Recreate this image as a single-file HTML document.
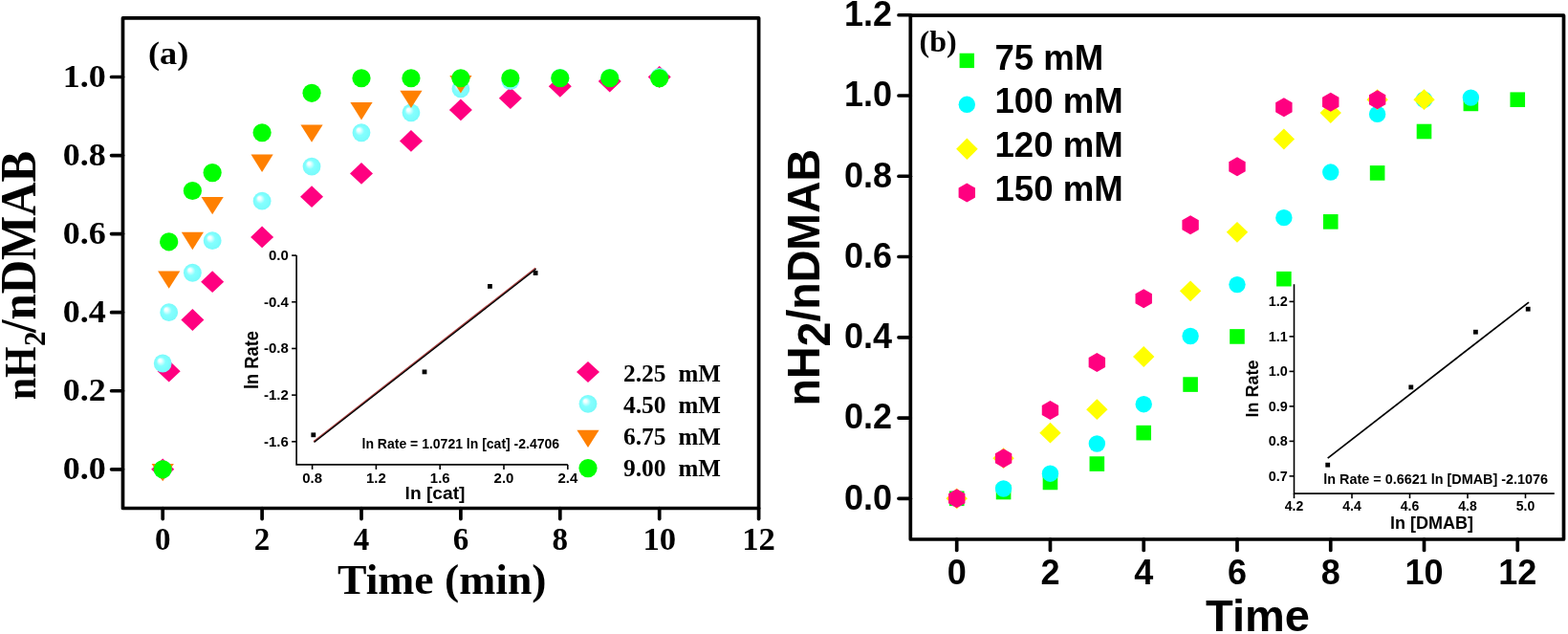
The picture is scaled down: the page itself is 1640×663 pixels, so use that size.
<!DOCTYPE html>
<html><head><meta charset="utf-8"><title>Figure</title>
<style>html,body{margin:0;padding:0;background:#fff;width:1640px;height:663px;overflow:hidden}svg{display:block}</style>
</head><body>
<svg width="1640" height="663" viewBox="0 0 1640 663">
<defs><radialGradient id="sph" cx="0.5" cy="0.5" r="0.5" fx="0.32" fy="0.31"><stop offset="0" stop-color="#ffffff"/><stop offset="0.16" stop-color="#f4ffff"/><stop offset="0.5" stop-color="#84ffff"/><stop offset="1" stop-color="#78fafa"/></radialGradient></defs>
<rect width="1640" height="663" fill="#fff"/>
<path d="M170.2 479.4L182.2 490.8L170.2 502.2L158.2 490.8Z" fill="#ff0080"/>
<path d="M176.69 376.83L188.69 388.23L176.69 399.62L164.69 388.23Z" fill="#ff0080"/>
<path d="M201.37 323.08L213.37 334.48L201.37 345.88L189.37 334.48Z" fill="#ff0080"/>
<path d="M222.15 283.28L234.15 294.68L222.15 306.08L210.15 294.68Z" fill="#ff0080"/>
<path d="M274.1 236.5L286.1 247.9L274.1 259.3L262.1 247.9Z" fill="#ff0080"/>
<path d="M326.05 194.24L338.05 205.64L326.05 217.04L314.05 205.64Z" fill="#ff0080"/>
<path d="M378 170.03L390 181.43L378 192.83L366 181.43Z" fill="#ff0080"/>
<path d="M429.95 135.98L441.95 147.38L429.95 158.78L417.95 147.38Z" fill="#ff0080"/>
<path d="M481.9 103.57L493.9 114.97L481.9 126.37L469.9 114.97Z" fill="#ff0080"/>
<path d="M533.85 91.26L545.85 102.66L533.85 114.06L521.85 102.66Z" fill="#ff0080"/>
<path d="M585.8 78.95L597.8 90.35L585.8 101.75L573.8 90.35Z" fill="#ff0080"/>
<path d="M637.75 73.61L649.75 85.01L637.75 96.41L625.75 85.01Z" fill="#ff0080"/>
<path d="M689.7 69.1L701.7 80.5L689.7 91.9L677.7 80.5Z" fill="#ff0080"/>
<circle cx="170.2" cy="490.8" r="9.4" fill="url(#sph)"/>
<circle cx="170.2" cy="380.02" r="9.4" fill="url(#sph)"/>
<circle cx="176.69" cy="326.68" r="9.4" fill="url(#sph)"/>
<circle cx="201.37" cy="285.24" r="9.4" fill="url(#sph)"/>
<circle cx="222.15" cy="251.6" r="9.4" fill="url(#sph)"/>
<circle cx="274.1" cy="210.15" r="9.4" fill="url(#sph)"/>
<circle cx="326.05" cy="174.05" r="9.4" fill="url(#sph)"/>
<circle cx="378" cy="138.76" r="9.4" fill="url(#sph)"/>
<circle cx="429.95" cy="117.84" r="9.4" fill="url(#sph)"/>
<circle cx="481.9" cy="92.81" r="9.4" fill="url(#sph)"/>
<circle cx="533.85" cy="84.6" r="9.4" fill="url(#sph)"/>
<circle cx="585.8" cy="81.32" r="9.4" fill="url(#sph)"/>
<circle cx="637.75" cy="81.32" r="9.4" fill="url(#sph)"/>
<circle cx="689.7" cy="80.5" r="9.4" fill="url(#sph)"/>
<path d="M158.6 484.88L181.8 484.88L170.2 503.28Z" fill="#ff8000"/>
<path d="M165.09 283.43L188.29 283.43L176.69 301.83Z" fill="#ff8000"/>
<path d="M189.77 242.81L212.97 242.81L201.37 261.21Z" fill="#ff8000"/>
<path d="M210.55 205.88L233.75 205.88L222.15 224.28Z" fill="#ff8000"/>
<path d="M262.5 161.57L285.7 161.57L274.1 179.97Z" fill="#ff8000"/>
<path d="M314.45 130.38L337.65 130.38L326.05 148.78Z" fill="#ff8000"/>
<path d="M366.4 107L389.6 107L378 125.4Z" fill="#ff8000"/>
<path d="M418.35 94.69L441.55 94.69L429.95 113.09Z" fill="#ff8000"/>
<path d="M470.3 79.1L493.5 79.1L481.9 97.5Z" fill="#ff8000"/>
<circle cx="170.2" cy="490.8" r="9.6" fill="#00ff00"/>
<circle cx="176.69" cy="252.83" r="9.6" fill="#00ff00"/>
<circle cx="201.37" cy="199.49" r="9.6" fill="#00ff00"/>
<circle cx="222.15" cy="180.61" r="9.6" fill="#00ff00"/>
<circle cx="274.1" cy="138.76" r="9.6" fill="#00ff00"/>
<circle cx="326.05" cy="97.32" r="9.6" fill="#00ff00"/>
<circle cx="378" cy="81.73" r="9.6" fill="#00ff00"/>
<circle cx="429.95" cy="81.73" r="9.6" fill="#00ff00"/>
<circle cx="481.9" cy="81.73" r="9.6" fill="#00ff00"/>
<circle cx="533.85" cy="81.73" r="9.6" fill="#00ff00"/>
<circle cx="585.8" cy="81.73" r="9.6" fill="#00ff00"/>
<circle cx="637.75" cy="81.73" r="9.6" fill="#00ff00"/>
<circle cx="689.7" cy="81.73" r="9.6" fill="#00ff00"/>
<rect x="128.5" y="18.8" width="665.1" height="512.7" fill="none" stroke="#000" stroke-width="3.7" stroke-linejoin="round"/>
<line x1="116.6" y1="490.8" x2="128.5" y2="490.8" stroke="#000" stroke-width="3.7" stroke-linecap="round"/>
<line x1="116.6" y1="408.74" x2="128.5" y2="408.74" stroke="#000" stroke-width="3.7" stroke-linecap="round"/>
<line x1="116.6" y1="326.68" x2="128.5" y2="326.68" stroke="#000" stroke-width="3.7" stroke-linecap="round"/>
<line x1="116.6" y1="244.62" x2="128.5" y2="244.62" stroke="#000" stroke-width="3.7" stroke-linecap="round"/>
<line x1="116.6" y1="162.56" x2="128.5" y2="162.56" stroke="#000" stroke-width="3.7" stroke-linecap="round"/>
<line x1="116.6" y1="80.5" x2="128.5" y2="80.5" stroke="#000" stroke-width="3.7" stroke-linecap="round"/>
<line x1="170.2" y1="531.5" x2="170.2" y2="542.6" stroke="#000" stroke-width="3.7" stroke-linecap="round"/>
<line x1="274.1" y1="531.5" x2="274.1" y2="542.6" stroke="#000" stroke-width="3.7" stroke-linecap="round"/>
<line x1="378" y1="531.5" x2="378" y2="542.6" stroke="#000" stroke-width="3.7" stroke-linecap="round"/>
<line x1="481.9" y1="531.5" x2="481.9" y2="542.6" stroke="#000" stroke-width="3.7" stroke-linecap="round"/>
<line x1="585.8" y1="531.5" x2="585.8" y2="542.6" stroke="#000" stroke-width="3.7" stroke-linecap="round"/>
<line x1="689.7" y1="531.5" x2="689.7" y2="542.6" stroke="#000" stroke-width="3.7" stroke-linecap="round"/>
<line x1="793.6" y1="531.5" x2="793.6" y2="542.6" stroke="#000" stroke-width="3.7" stroke-linecap="round"/>
<text transform="translate(110.8 501.2) scale(1.045 1)" font-family="Liberation Serif, serif" font-weight="bold" font-size="34.5" text-anchor="end">0.0</text>
<text transform="translate(110.8 419.14) scale(1.045 1)" font-family="Liberation Serif, serif" font-weight="bold" font-size="34.5" text-anchor="end">0.2</text>
<text transform="translate(110.8 337.08) scale(1.045 1)" font-family="Liberation Serif, serif" font-weight="bold" font-size="34.5" text-anchor="end">0.4</text>
<text transform="translate(110.8 255.02) scale(1.045 1)" font-family="Liberation Serif, serif" font-weight="bold" font-size="34.5" text-anchor="end">0.6</text>
<text transform="translate(110.8 172.96) scale(1.045 1)" font-family="Liberation Serif, serif" font-weight="bold" font-size="34.5" text-anchor="end">0.8</text>
<text transform="translate(110.8 90.9) scale(1.045 1)" font-family="Liberation Serif, serif" font-weight="bold" font-size="34.5" text-anchor="end">1.0</text>
<text transform="translate(170.2 575.2)" font-family="Liberation Serif, serif" font-weight="bold" font-size="33" text-anchor="middle">0</text>
<text transform="translate(274.1 575.2)" font-family="Liberation Serif, serif" font-weight="bold" font-size="33" text-anchor="middle">2</text>
<text transform="translate(378 575.2)" font-family="Liberation Serif, serif" font-weight="bold" font-size="33" text-anchor="middle">4</text>
<text transform="translate(481.9 575.2)" font-family="Liberation Serif, serif" font-weight="bold" font-size="33" text-anchor="middle">6</text>
<text transform="translate(585.8 575.2)" font-family="Liberation Serif, serif" font-weight="bold" font-size="33" text-anchor="middle">8</text>
<text transform="translate(689.7 575.2) scale(1.05 1)" font-family="Liberation Serif, serif" font-weight="bold" font-size="33" text-anchor="middle">10</text>
<text transform="translate(793.6 575.2) scale(1.05 1)" font-family="Liberation Serif, serif" font-weight="bold" font-size="33" text-anchor="middle">12</text>
<text transform="translate(353 621.4) scale(1.015 1)" font-family="Liberation Serif, serif" font-weight="bold" font-size="45">Time (min)</text>
<text transform="translate(36.6 418.3) rotate(-90) scale(0.9 1.02)" font-family="Liberation Serif, serif" font-weight="bold" font-size="46.5">nH</text>
<text transform="translate(46.6 362) rotate(-90) scale(1 1.05)" font-family="Liberation Serif, serif" font-weight="bold" font-size="31">2</text>
<text transform="translate(36.6 348) rotate(-90) scale(0.95 1.03)" font-family="Liberation Serif, serif" font-weight="bold" font-size="51.5">/nDMAB</text>
<text transform="translate(155 67) scale(1.1 1)" font-family="Liberation Serif, serif" font-weight="bold" font-size="33">(a)</text>
<path d="M615 378L627 389L615 400L603 389Z" fill="#ff0080"/>
<circle cx="615" cy="422.3" r="9.4" fill="url(#sph)"/>
<path d="M603.4 449.7L626.6 449.7L615 468.1Z" fill="#ff8000"/>
<circle cx="615" cy="489.6" r="9.6" fill="#00ff00"/>
<text transform="translate(652 398.5) scale(1.02 1)" font-family="Liberation Serif, serif" font-weight="bold" font-size="25">2.25</text>
<text transform="translate(709.5 398.5)" font-family="Liberation Serif, serif" font-weight="bold" font-size="25">mM</text>
<text transform="translate(652 431.9) scale(1.02 1)" font-family="Liberation Serif, serif" font-weight="bold" font-size="25">4.50</text>
<text transform="translate(709.5 431.9)" font-family="Liberation Serif, serif" font-weight="bold" font-size="25">mM</text>
<text transform="translate(652 465.2) scale(1.02 1)" font-family="Liberation Serif, serif" font-weight="bold" font-size="25">6.75</text>
<text transform="translate(709.5 465.2)" font-family="Liberation Serif, serif" font-weight="bold" font-size="25">mM</text>
<text transform="translate(652 498.4) scale(1.02 1)" font-family="Liberation Serif, serif" font-weight="bold" font-size="25">9.00</text>
<text transform="translate(709.5 498.4)" font-family="Liberation Serif, serif" font-weight="bold" font-size="25">mM</text>
<path d="M310.1 267.1V485.9H593.8" fill="none" stroke="#000" stroke-width="1.6"/>
<line x1="305.1" y1="267.1" x2="310.1" y2="267.1" stroke="#000" stroke-width="1.6"/>
<line x1="305.1" y1="315.78" x2="310.1" y2="315.78" stroke="#000" stroke-width="1.6"/>
<line x1="305.1" y1="364.46" x2="310.1" y2="364.46" stroke="#000" stroke-width="1.6"/>
<line x1="305.1" y1="413.14" x2="310.1" y2="413.14" stroke="#000" stroke-width="1.6"/>
<line x1="305.1" y1="461.82" x2="310.1" y2="461.82" stroke="#000" stroke-width="1.6"/>
<line x1="326.6" y1="485.9" x2="326.6" y2="490.9" stroke="#000" stroke-width="1.6"/>
<line x1="393.4" y1="485.9" x2="393.4" y2="490.9" stroke="#000" stroke-width="1.6"/>
<line x1="460.2" y1="485.9" x2="460.2" y2="490.9" stroke="#000" stroke-width="1.6"/>
<line x1="527" y1="485.9" x2="527" y2="490.9" stroke="#000" stroke-width="1.6"/>
<line x1="593.8" y1="485.9" x2="593.8" y2="490.9" stroke="#000" stroke-width="1.6"/>
<g font-family="Liberation Sans, sans-serif" font-weight="bold" font-size="14" fill="#000">
<text transform="translate(301.8 271.9) scale(1.07 1)" font-family="Liberation Sans, sans-serif" font-weight="bold" font-size="14" text-anchor="end">0.0</text>
<text transform="translate(301.8 320.58) scale(1.07 1)" font-family="Liberation Sans, sans-serif" font-weight="bold" font-size="14" text-anchor="end">-0.4</text>
<text transform="translate(301.8 369.26) scale(1.07 1)" font-family="Liberation Sans, sans-serif" font-weight="bold" font-size="14" text-anchor="end">-0.8</text>
<text transform="translate(301.8 417.94) scale(1.07 1)" font-family="Liberation Sans, sans-serif" font-weight="bold" font-size="14" text-anchor="end">-1.2</text>
<text transform="translate(301.8 466.62) scale(1.07 1)" font-family="Liberation Sans, sans-serif" font-weight="bold" font-size="14" text-anchor="end">-1.6</text>
<text transform="translate(326.6 504.6) scale(1.07 1)" font-family="Liberation Sans, sans-serif" font-weight="bold" font-size="14" text-anchor="middle">0.8</text>
<text transform="translate(393.4 504.6) scale(1.07 1)" font-family="Liberation Sans, sans-serif" font-weight="bold" font-size="14" text-anchor="middle">1.2</text>
<text transform="translate(460.2 504.6) scale(1.07 1)" font-family="Liberation Sans, sans-serif" font-weight="bold" font-size="14" text-anchor="middle">1.6</text>
<text transform="translate(527 504.6) scale(1.07 1)" font-family="Liberation Sans, sans-serif" font-weight="bold" font-size="14" text-anchor="middle">2.0</text>
<text transform="translate(593.8 504.6) scale(1.07 1)" font-family="Liberation Sans, sans-serif" font-weight="bold" font-size="14" text-anchor="middle">2.4</text>
<text transform="translate(378.5 468.8)" font-family="Liberation Sans, sans-serif" font-weight="bold" font-size="14">ln Rate = 1.0721 ln [cat] -2.4706</text>
</g>
<text x="455" y="521.5" text-anchor="middle" font-family="Liberation Sans, sans-serif" font-weight="bold" font-size="19.2">ln [cat]</text>
<text transform="translate(270.3 376.6) rotate(-90) scale(1 1.06)" font-family="Liberation Sans, sans-serif" font-weight="bold" font-size="18.3" text-anchor="middle">ln Rate</text>
<line x1="328.02" y1="461.74" x2="560.15" y2="280.38" stroke="#a83c3c" stroke-width="1.5"/>
<line x1="328.57" y1="462.54" x2="560.7" y2="281.18" stroke="#000" stroke-width="1.4"/>
<rect x="325.4" y="452.4" width="4.8" height="4.8" fill="#000"/>
<rect x="441.6" y="386.5" width="4.8" height="4.8" fill="#000"/>
<rect x="510" y="297" width="4.8" height="4.8" fill="#000"/>
<rect x="557.7" y="283.1" width="4.8" height="4.8" fill="#000"/>
<rect x="992.9" y="513.5" width="15.6" height="15.6" fill="#00ff00"/>
<rect x="1041.78" y="506.76" width="15.6" height="15.6" fill="#00ff00"/>
<rect x="1090.66" y="496.65" width="15.6" height="15.6" fill="#00ff00"/>
<rect x="1139.54" y="477.27" width="15.6" height="15.6" fill="#00ff00"/>
<rect x="1188.42" y="444.83" width="15.6" height="15.6" fill="#00ff00"/>
<rect x="1237.3" y="394.27" width="15.6" height="15.6" fill="#00ff00"/>
<rect x="1286.18" y="344.14" width="15.6" height="15.6" fill="#00ff00"/>
<rect x="1335.06" y="283.89" width="15.6" height="15.6" fill="#00ff00"/>
<rect x="1383.94" y="224.07" width="15.6" height="15.6" fill="#00ff00"/>
<rect x="1432.82" y="173.09" width="15.6" height="15.6" fill="#00ff00"/>
<rect x="1481.7" y="129.7" width="15.6" height="15.6" fill="#00ff00"/>
<rect x="1530.58" y="100.63" width="15.6" height="15.6" fill="#00ff00"/>
<rect x="1579.46" y="96.41" width="15.6" height="15.6" fill="#00ff00"/>
<circle cx="1000.7" cy="521.3" r="8.7" fill="#00ffff"/>
<circle cx="1049.58" cy="510.98" r="8.7" fill="#00ffff"/>
<circle cx="1098.46" cy="495.18" r="8.7" fill="#00ffff"/>
<circle cx="1147.34" cy="464" r="8.7" fill="#00ffff"/>
<circle cx="1196.22" cy="422.72" r="8.7" fill="#00ffff"/>
<circle cx="1245.1" cy="351.52" r="8.7" fill="#00ffff"/>
<circle cx="1293.98" cy="297.59" r="8.7" fill="#00ffff"/>
<circle cx="1342.86" cy="227.65" r="8.7" fill="#00ffff"/>
<circle cx="1391.74" cy="180.05" r="8.7" fill="#00ffff"/>
<circle cx="1440.62" cy="119.38" r="8.7" fill="#00ffff"/>
<circle cx="1489.5" cy="104.21" r="8.7" fill="#00ffff"/>
<circle cx="1538.38" cy="102.11" r="8.7" fill="#00ffff"/>
<path d="M1000.7 510.4L1011.9 521.3L1000.7 532.2L989.5 521.3Z" fill="#ffff00"/>
<path d="M1049.58 468.27L1060.78 479.17L1049.58 490.07L1038.38 479.17Z" fill="#ffff00"/>
<path d="M1098.46 441.73L1109.66 452.63L1098.46 463.53L1087.26 452.63Z" fill="#ffff00"/>
<path d="M1147.34 417.29L1158.54 428.19L1147.34 439.09L1136.14 428.19Z" fill="#ffff00"/>
<path d="M1196.22 362.1L1207.42 373L1196.22 383.9L1185.02 373Z" fill="#ffff00"/>
<path d="M1245.1 293.43L1256.3 304.33L1245.1 315.23L1233.9 304.33Z" fill="#ffff00"/>
<path d="M1293.98 231.92L1305.18 242.82L1293.98 253.72L1282.78 242.82Z" fill="#ffff00"/>
<path d="M1342.86 134.6L1354.06 145.5L1342.86 156.4L1331.66 145.5Z" fill="#ffff00"/>
<path d="M1391.74 107.22L1402.94 118.12L1391.74 129.02L1380.54 118.12Z" fill="#ffff00"/>
<path d="M1440.62 93.31L1451.82 104.21L1440.62 115.11L1429.42 104.21Z" fill="#ffff00"/>
<path d="M1489.5 93.31L1500.7 104.21L1489.5 115.11L1478.3 104.21Z" fill="#ffff00"/>
<path d="M1000.7 511.3L1009.4 516.3L1009.4 526.3L1000.7 531.3L992 526.3L992 516.3Z" fill="#ff0080"/>
<path d="M1049.58 469.17L1058.28 474.17L1058.28 484.17L1049.58 489.17L1040.88 484.17L1040.88 474.17Z" fill="#ff0080"/>
<path d="M1098.46 419.04L1107.16 424.04L1107.16 434.04L1098.46 439.04L1089.76 434.04L1089.76 424.04Z" fill="#ff0080"/>
<path d="M1147.34 368.9L1156.04 373.9L1156.04 383.9L1147.34 388.9L1138.64 383.9L1138.64 373.9Z" fill="#ff0080"/>
<path d="M1196.22 302.34L1204.92 307.34L1204.92 317.34L1196.22 322.34L1187.52 317.34L1187.52 307.34Z" fill="#ff0080"/>
<path d="M1245.1 225.24L1253.8 230.24L1253.8 240.24L1245.1 245.24L1236.4 240.24L1236.4 230.24Z" fill="#ff0080"/>
<path d="M1293.98 164.15L1302.68 169.15L1302.68 179.15L1293.98 184.15L1285.28 179.15L1285.28 169.15Z" fill="#ff0080"/>
<path d="M1342.86 102.22L1351.56 107.22L1351.56 117.22L1342.86 122.22L1334.16 117.22L1334.16 107.22Z" fill="#ff0080"/>
<path d="M1391.74 96.74L1400.44 101.74L1400.44 111.74L1391.74 116.74L1383.04 111.74L1383.04 101.74Z" fill="#ff0080"/>
<path d="M1440.62 94.21L1449.32 99.21L1449.32 109.21L1440.62 114.21L1431.92 109.21L1431.92 99.21Z" fill="#ff0080"/>
<rect x="952.3" y="16.2" width="683.2" height="547.8" fill="none" stroke="#000" stroke-width="3.7" stroke-linejoin="round"/>
<line x1="940" y1="521.3" x2="952.3" y2="521.3" stroke="#000" stroke-width="3.7" stroke-linecap="round"/>
<line x1="940" y1="437.04" x2="952.3" y2="437.04" stroke="#000" stroke-width="3.7" stroke-linecap="round"/>
<line x1="940" y1="352.78" x2="952.3" y2="352.78" stroke="#000" stroke-width="3.7" stroke-linecap="round"/>
<line x1="940" y1="268.52" x2="952.3" y2="268.52" stroke="#000" stroke-width="3.7" stroke-linecap="round"/>
<line x1="940" y1="184.26" x2="952.3" y2="184.26" stroke="#000" stroke-width="3.7" stroke-linecap="round"/>
<line x1="940" y1="100" x2="952.3" y2="100" stroke="#000" stroke-width="3.7" stroke-linecap="round"/>
<line x1="940" y1="15.74" x2="952.3" y2="15.74" stroke="#000" stroke-width="3.7" stroke-linecap="round"/>
<line x1="1000.7" y1="564" x2="1000.7" y2="575.5" stroke="#000" stroke-width="3.7" stroke-linecap="round"/>
<line x1="1098.46" y1="564" x2="1098.46" y2="575.5" stroke="#000" stroke-width="3.7" stroke-linecap="round"/>
<line x1="1196.22" y1="564" x2="1196.22" y2="575.5" stroke="#000" stroke-width="3.7" stroke-linecap="round"/>
<line x1="1293.98" y1="564" x2="1293.98" y2="575.5" stroke="#000" stroke-width="3.7" stroke-linecap="round"/>
<line x1="1391.74" y1="564" x2="1391.74" y2="575.5" stroke="#000" stroke-width="3.7" stroke-linecap="round"/>
<line x1="1489.5" y1="564" x2="1489.5" y2="575.5" stroke="#000" stroke-width="3.7" stroke-linecap="round"/>
<line x1="1587.26" y1="564" x2="1587.26" y2="575.5" stroke="#000" stroke-width="3.7" stroke-linecap="round"/>
<text transform="translate(933 532.6)" font-family="Liberation Sans, sans-serif" font-weight="bold" font-size="36" text-anchor="end">0.0</text>
<text transform="translate(933 448.34)" font-family="Liberation Sans, sans-serif" font-weight="bold" font-size="36" text-anchor="end">0.2</text>
<text transform="translate(933 364.08)" font-family="Liberation Sans, sans-serif" font-weight="bold" font-size="36" text-anchor="end">0.4</text>
<text transform="translate(933 279.82)" font-family="Liberation Sans, sans-serif" font-weight="bold" font-size="36" text-anchor="end">0.6</text>
<text transform="translate(933 195.56)" font-family="Liberation Sans, sans-serif" font-weight="bold" font-size="36" text-anchor="end">0.8</text>
<text transform="translate(933 111.3)" font-family="Liberation Sans, sans-serif" font-weight="bold" font-size="36" text-anchor="end">1.0</text>
<text transform="translate(933 27.04)" font-family="Liberation Sans, sans-serif" font-weight="bold" font-size="36" text-anchor="end">1.2</text>
<text transform="translate(1000.7 610.5)" font-family="Liberation Sans, sans-serif" font-weight="bold" font-size="36" text-anchor="middle">0</text>
<text transform="translate(1098.46 610.5)" font-family="Liberation Sans, sans-serif" font-weight="bold" font-size="36" text-anchor="middle">2</text>
<text transform="translate(1196.22 610.5)" font-family="Liberation Sans, sans-serif" font-weight="bold" font-size="36" text-anchor="middle">4</text>
<text transform="translate(1293.98 610.5)" font-family="Liberation Sans, sans-serif" font-weight="bold" font-size="36" text-anchor="middle">6</text>
<text transform="translate(1391.74 610.5)" font-family="Liberation Sans, sans-serif" font-weight="bold" font-size="36" text-anchor="middle">8</text>
<text transform="translate(1489.5 610.5)" font-family="Liberation Sans, sans-serif" font-weight="bold" font-size="36" text-anchor="middle">10</text>
<text transform="translate(1587.26 610.5)" font-family="Liberation Sans, sans-serif" font-weight="bold" font-size="36" text-anchor="middle">12</text>
<text transform="translate(1315.5 660.3)" font-family="Liberation Sans, sans-serif" font-weight="bold" font-size="47" text-anchor="middle">Time</text>
<text transform="translate(856.7 424.4) rotate(-90) scale(1 1.05)" font-family="Liberation Sans, sans-serif" font-weight="bold" font-size="46.5">nH<tspan dy="10.3">2</tspan><tspan dy="-10.3">/nDMAB</tspan></text>
<text transform="translate(961.5 54)" font-family="Liberation Serif, serif" font-weight="bold" font-size="32">(b)</text>
<rect x="1003.6" y="55.7" width="15.4" height="15.4" fill="#00ff00"/>
<circle cx="1011.3" cy="109.3" r="8.7" fill="#00ffff"/>
<path d="M1011.4 144.6L1022.7 155.8L1011.4 167L1000.1 155.8Z" fill="#ffff00"/>
<path d="M1011.3 191.6L1020 196.6L1020 206.6L1011.3 211.6L1002.6 206.6L1002.6 196.6Z" fill="#ff0080"/>
<text transform="translate(1040.5 72.9)" font-family="Liberation Sans, sans-serif" font-weight="bold" font-size="36.6">75 mM</text>
<text transform="translate(1040.5 118.4)" font-family="Liberation Sans, sans-serif" font-weight="bold" font-size="36.6">100 mM</text>
<text transform="translate(1040.5 164.2)" font-family="Liberation Sans, sans-serif" font-weight="bold" font-size="36.6">120 mM</text>
<text transform="translate(1040.5 210)" font-family="Liberation Sans, sans-serif" font-weight="bold" font-size="36.6">150 mM</text>
<path d="M1353.5 297.15V516.15H1625.75" fill="none" stroke="#000" stroke-width="1.6"/>
<line x1="1348.5" y1="497.9" x2="1353.5" y2="497.9" stroke="#000" stroke-width="1.6"/>
<line x1="1348.5" y1="461.4" x2="1353.5" y2="461.4" stroke="#000" stroke-width="1.6"/>
<line x1="1348.5" y1="424.9" x2="1353.5" y2="424.9" stroke="#000" stroke-width="1.6"/>
<line x1="1348.5" y1="388.4" x2="1353.5" y2="388.4" stroke="#000" stroke-width="1.6"/>
<line x1="1348.5" y1="351.9" x2="1353.5" y2="351.9" stroke="#000" stroke-width="1.6"/>
<line x1="1348.5" y1="315.4" x2="1353.5" y2="315.4" stroke="#000" stroke-width="1.6"/>
<line x1="1353.5" y1="516.15" x2="1353.5" y2="521.15" stroke="#000" stroke-width="1.6"/>
<line x1="1414" y1="516.15" x2="1414" y2="521.15" stroke="#000" stroke-width="1.6"/>
<line x1="1474.5" y1="516.15" x2="1474.5" y2="521.15" stroke="#000" stroke-width="1.6"/>
<line x1="1535" y1="516.15" x2="1535" y2="521.15" stroke="#000" stroke-width="1.6"/>
<line x1="1595.5" y1="516.15" x2="1595.5" y2="521.15" stroke="#000" stroke-width="1.6"/>
<g font-family="Liberation Sans, sans-serif" font-weight="bold" font-size="14" fill="#000">
<text transform="translate(1346.7 502.8)" font-family="Liberation Sans, sans-serif" font-weight="bold" font-size="14.4" text-anchor="end">0.7</text>
<text transform="translate(1346.7 466.3)" font-family="Liberation Sans, sans-serif" font-weight="bold" font-size="14.4" text-anchor="end">0.8</text>
<text transform="translate(1346.7 429.8)" font-family="Liberation Sans, sans-serif" font-weight="bold" font-size="14.4" text-anchor="end">0.9</text>
<text transform="translate(1346.7 393.3)" font-family="Liberation Sans, sans-serif" font-weight="bold" font-size="14.4" text-anchor="end">1.0</text>
<text transform="translate(1346.7 356.8)" font-family="Liberation Sans, sans-serif" font-weight="bold" font-size="14.4" text-anchor="end">1.1</text>
<text transform="translate(1346.7 320.3)" font-family="Liberation Sans, sans-serif" font-weight="bold" font-size="14.4" text-anchor="end">1.2</text>
<text x="1353.5" y="534.2" text-anchor="middle">4.2</text>
<text x="1414" y="534.2" text-anchor="middle">4.4</text>
<text x="1474.5" y="534.2" text-anchor="middle">4.6</text>
<text x="1535" y="534.2" text-anchor="middle">4.8</text>
<text x="1595.5" y="534.2" text-anchor="middle">5.0</text>
<text x="1384.3" y="506.2" font-size="14.4">ln Rate = 0.6621 ln [DMAB] -2.1076</text>
</g>
<text x="1497.6" y="552.5" text-anchor="middle" font-family="Liberation Sans, sans-serif" font-weight="bold" font-size="18">ln [DMAB]</text>
<text transform="translate(1315.6 406.5) rotate(-90)" text-anchor="middle" font-family="Liberation Sans, sans-serif" font-weight="bold" font-size="18">ln Rate</text>
<line x1="1388.7" y1="479.1" x2="1599" y2="316.1" stroke="#000" stroke-width="1.8"/>
<rect x="1386.3" y="483.8" width="4.8" height="4.8" fill="#000"/>
<rect x="1473.4" y="402.5" width="4.8" height="4.8" fill="#000"/>
<rect x="1541" y="344.8" width="4.8" height="4.8" fill="#000"/>
<rect x="1595.8" y="320.8" width="4.8" height="4.8" fill="#000"/>
</svg>
</body></html>
